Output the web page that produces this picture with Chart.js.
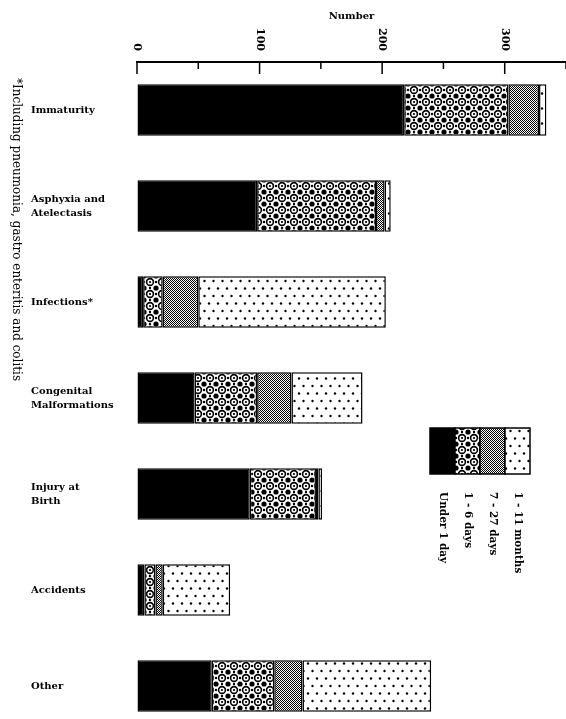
<!DOCTYPE html>
<html>
<head>
<meta charset="utf-8">
<script src="https://cdn.jsdelivr.net/npm/chart.js@4.4.1/dist/chart.umd.min.js"></script>
<style>
  html, body { margin: 0; padding: 0; background: #fff; overflow: hidden; }
  #wrap { position: relative; width: 566px; height: 744px; }
</style>
</head>
<body>
<div id="wrap"><canvas id="chart"></canvas></div>
<script>
// causes of death, by age at death
const categories = ['Immaturity', ['Asphyxia and', 'Atelectasis'], 'Infections*',
  ['Congenital', 'Malformations'], ['Injury at', 'Birth'], 'Accidents', 'Other'];
const under1Day   = [218, 98,   5, 47, 92,  6,  61];
const days1to6    = [ 85, 97,  16, 51, 54,  9,  51];
const days7to27   = [ 25,  7,  29, 28,  2,  6,  23];
const months1to11 = [  6,  5, 153, 58,  3, 55, 105];
const seriesNames = ['Under 1 day', '1 - 6 days', '7 - 27 days', '1 - 11 months'];
const footnote = '*Including pneumonia, gastro enteritis and colitis';

function tile(w, h, draw){
  let c = document.createElement('canvas');
  c.width = w; c.height = h;
  let g = c.getContext('2d');
  g.fillStyle = '#fff';
  g.fillRect(0, 0, w, h);
  g.fillStyle = '#000';
  g.strokeStyle = '#000';
  draw(g);
  return g.createPattern(c, 'repeat');
}

function dot(g, x, y, r){
  g.beginPath(); g.arc(x, y, r, 0, Math.PI*2); g.fill();
}

const circles = tile(12, 12, g => {
  [[0,0],[12,0],[0,12],[12,12]].forEach(p => dot(g, p[0], p[1], 2.6));
  [[6,0],[6,12],[0,6],[12,6]].forEach(p => dot(g, p[0], p[1], 1.2));
  g.lineWidth = 1.6;
  g.beginPath(); g.arc(6, 6, 3.4, 0, Math.PI*2); g.stroke();
  dot(g, 6, 6, 1.1);
});

const stipple = tile(2, 2, g => {
  g.fillRect(0, 0, 1, 1);
  g.fillRect(1, 1, 1, 1);
});

const dots = tile(9, 15, g => {
  dot(g, 2, 3.5, 1.2);
  dot(g, 6.5, 11, 1.2);
});

const fills = ['#000', circles, stipple, dots];

function make(i, values){
  return {
    label: seriesNames[i],
    data: values,
    backgroundColor: fills[i],
    borderColor: '#000',
    borderWidth: 1.5,
    borderSkipped: false,
    barPercentage: 0.535,
    categoryPercentage: 1
  }
}

// tick marks hang down from the top axis, labels turned sideways
const axisMarks = {
  id: 'axisMarks',
  afterDraw(chart){
    let ctx = chart.ctx;
    let x = chart.scales.x;
    let top = chart.chartArea.top;
    ctx.save();
    ctx.strokeStyle = '#000';
    ctx.fillStyle = '#000';
    ctx.lineWidth = 1.5;
    x.ticks.forEach(t => {
      let px = x.getPixelForValue(t.value);
      let len = t.value % 100 === 0 ? 12 : 7;
      ctx.beginPath(); ctx.moveTo(px, top); ctx.lineTo(px, top + len); ctx.stroke();
      if(t.value % 100 === 0){
        ctx.save();
        ctx.translate(px, 51);
        ctx.rotate(Math.PI/2);
        ctx.font = 'bold 11px "DejaVu Serif"';
        ctx.textAlign = 'right';
        ctx.textBaseline = 'middle';
        ctx.fillText(String(t.value), 0, 0);
        ctx.restore();
      }
    });

    // footnote down the left edge
    ctx.save();
    ctx.translate(16, 78);
    ctx.rotate(Math.PI/2);
    ctx.font = '12px "DejaVu Serif"';
    ctx.textAlign = 'left';
    ctx.textBaseline = 'middle';
    ctx.fillText(footnote, 0, 0);
    ctx.restore();

    // legend: one box split in four, names underneath
    let lx = 430, ly = 428, w = 25, h = 46;
    chart.data.datasets.forEach((ds, i) => {
      ctx.fillStyle = ds.backgroundColor;
      ctx.fillRect(lx + i*w, ly, w, h);
      ctx.strokeRect(lx + i*w, ly, w, h);
      ctx.save();
      ctx.fillStyle = '#000';
      ctx.translate(lx + i*w + w/2, 492);
      ctx.rotate(Math.PI/2);
      ctx.font = 'bold 10.5px "DejaVu Serif"';
      ctx.textAlign = 'left';
      ctx.textBaseline = 'middle';
      ctx.fillText(ds.label, 0, 0);
      ctx.restore();
    });
    ctx.restore();
  }
};

Chart.defaults.font.family = '"DejaVu Serif"';
Chart.defaults.color = '#000';

new Chart(document.getElementById('chart'), {
  type: 'bar',
  data: {
    labels: categories,
    datasets: [make(0, under1Day), make(1, days1to6), make(2, days7to27), make(3, months1to11)]
  },
  options: {
    indexAxis: 'y',
    responsive: true,
    maintainAspectRatio: false,
    animation: false,
    layout: {padding: {left: 31, right: 0, top: 0, bottom: 0}},
    plugins: {legend: {display: false}, tooltip: {enabled: false}},
    scales: {
      x: {
        position: 'top',
        stacked: true,
        min: 0,
        max: 350,
        ticks: {display: false, stepSize: 50},
        grid: {drawOnChartArea: false, drawTicks: false},
        border: {display: true, color: '#000', width: 2},
        title: {
          display: true, text: 'Number', color: '#000',
          font: {size: 10, weight: 'bold', lineHeight: 1.2},
          padding: {top: 10, bottom: 40}
        }
      },
      y: {
        stacked: true,
        grid: {display: false},
        border: {display: false},
        ticks: {
          crossAlign: 'far',
          color: '#000',
          font: {size: 10, weight: 'bold', lineHeight: 1.4}
        },
        afterFit(scale){ scale.width = 106; }
      }
    }
  },
  plugins: [axisMarks]
});
</script>
</body>
</html>
